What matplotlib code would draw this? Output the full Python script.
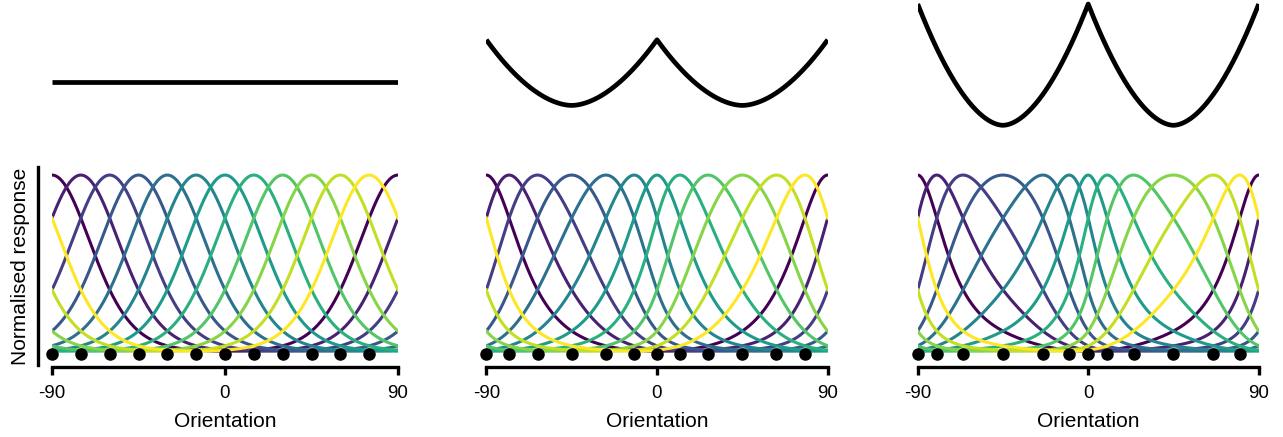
import numpy as np
import matplotlib
matplotlib.use("Agg")
import matplotlib.pyplot as plt

plt.rcParams['font.family'] = ['Liberation Sans', 'DejaVu Sans']

# preferred orientations (deg)
prefs_uniform = [-90, -75, -60, -45, -30, -15, 0, 15, 30, 45, 60, 75]
prefs_mid = [-90, -78, -63, -45, -27, -12, 0, 12, 27, 45, 63, 78]
prefs_strong = [-90, -80, -66, -45, -24, -10, 0, 10, 24, 45, 66, 80]

tick_vals = [-90, 0, 90]
tick_labels = ['-90', '0', '90']

kappa = 2.05      # von Mises concentration of the tuning curves
p_exp = 1.8       # shape of the density bumps
theta = np.linspace(-90, 90, 721)
colors = plt.cm.viridis(np.linspace(0, 1, 12))

# density shape: cusps at 0 and +-90, minima at +-45, zero mean
u = np.abs(np.abs(theta) - 45) / 45
shape = u ** p_exp - 1 / (p_exp + 1)
dth = theta[1] - theta[0]
G = np.concatenate([[0], np.cumsum((shape[1:] + shape[:-1]) / 2 * dth)])


def fit(prefs):
    # amplitude of density so that its cdf puts the dots on an even grid
    p = np.array(prefs, float)
    target = -90 + 180 / len(p) * np.arange(len(p))
    g = np.interp(p, theta, G)
    a = np.sum(g * (target - p)) / np.sum(g * g)
    return 1 + a * shape, theta + a * G, target


W, H = 1283, 437
fig = plt.figure(figsize=(W / 100, H / 100), dpi=100)

panels = [(prefs_uniform, 52, 398),
          (prefs_mid, 486.3, 827.7),
          (prefs_strong, 917.7, 1258.7)]

for k, (prefs, x0, x1) in enumerate(panels):
    dens, w, target = fit(prefs)

    # top: density of preferred orientations
    axt = fig.add_axes([x0 / W, (H - 140) / H, (x1 - x0) / W, 140 / H])
    axt.plot(theta, dens, color='k', lw=3.4, solid_capstyle='butt')
    axt.set_xlim(-90, 90)
    axt.set_ylim(0.482, 1.732)
    axt.axis('off')

    # bottom: tuning curves
    ax = fig.add_axes([x0 / W, (H - 365) / H, (x1 - x0) / W, 198 / H])
    for i, t in enumerate(target):
        r = np.exp(kappa * (np.cos(np.radians(2 * (w - t))) - 1))
        ax.plot(theta, r, color=colors[i], lw=2.2)
    ax.plot(prefs, np.zeros(len(prefs)), 'o', color='k', ms=8, clip_on=False, zorder=5)
    ax.set_xlim(-90, 90)
    ax.set_ylim(-0.061, 1.045)
    ax.set_xticks(tick_vals)
    ax.set_xticklabels(tick_labels)
    ax.tick_params(axis='x', length=5.8, width=2.4, pad=7, labelsize=13.5)
    ax.set_yticks([])
    ax.set_xlabel('Orientation', fontsize=15, labelpad=7)
    for s in ['top', 'right']:
        ax.spines[s].set_visible(False)
    ax.spines['bottom'].set_linewidth(2.4)
    ax.spines['bottom'].set_position(('outward', 1.5))
    if k == 0:
        ax.spines['left'].set_linewidth(2.4)
        ax.spines['left'].set_position(('outward', 10))
        ax.set_ylabel('Normalised response', fontsize=15, labelpad=6)
    else:
        ax.spines['left'].set_visible(False)

fig.savefig('out.png', dpi=100)
